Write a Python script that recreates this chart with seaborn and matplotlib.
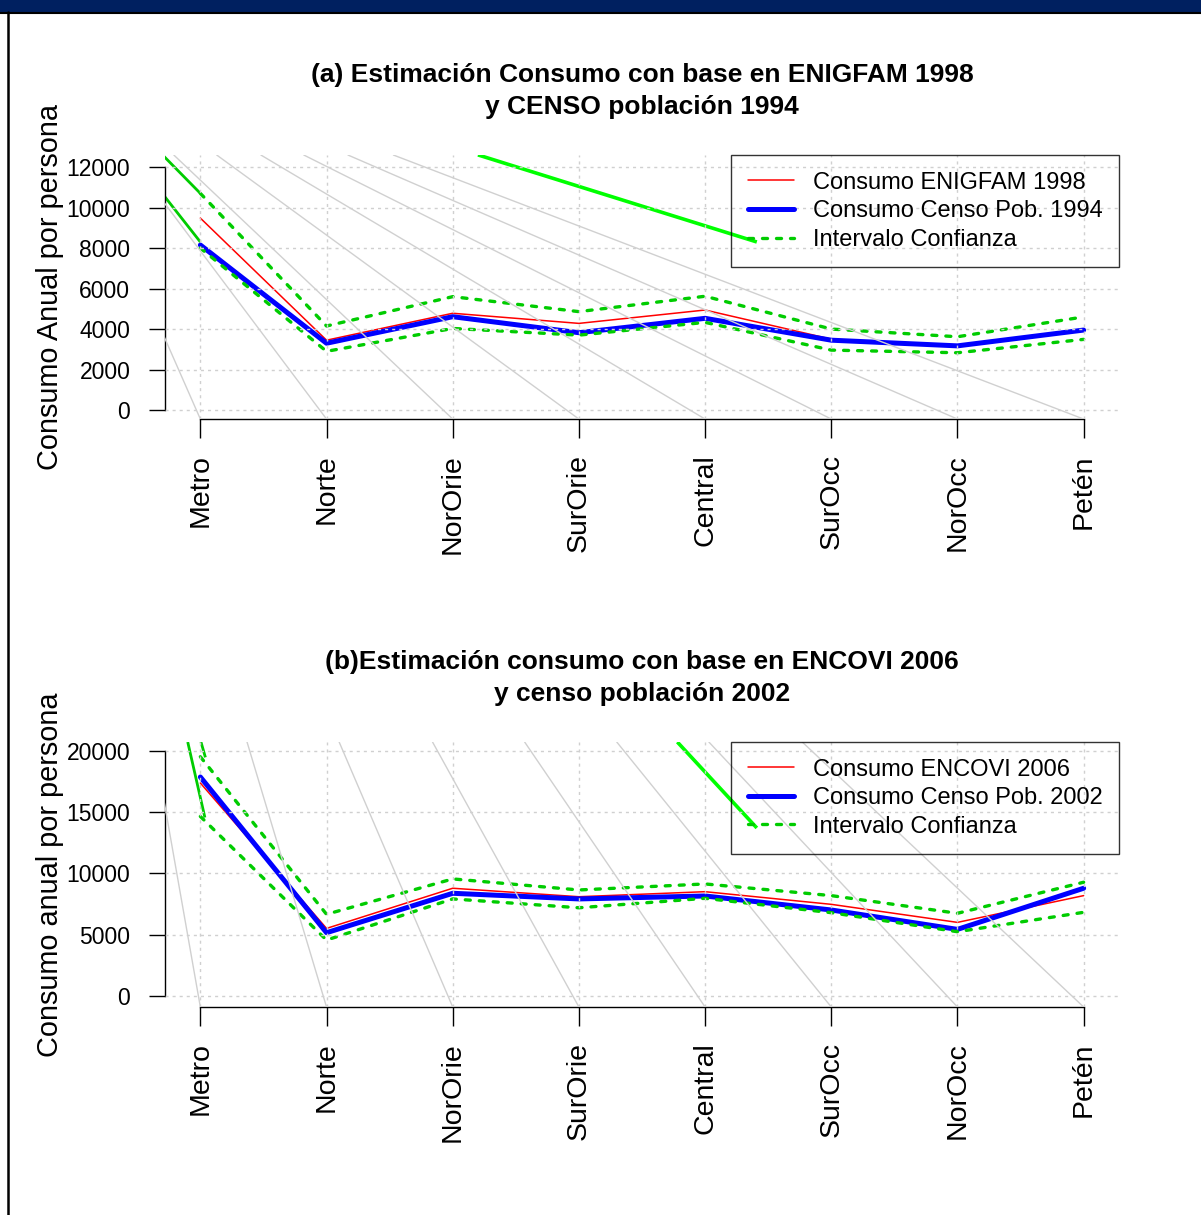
import matplotlib
matplotlib.use("Agg")
import matplotlib.pyplot as plt
from matplotlib.lines import Line2D
from matplotlib.patches import Rectangle
import pandas as pd
import seaborn as sns

regiones = ["Metro", "Norte", "NorOrie", "SurOrie", "Central", "SurOcc", "NorOcc", "Petén"]

# (a) ENIGFAM 1998 / censo 1994
enigfam_1998 = [9480, 3450, 4780, 4280, 4940, 3500, 3200, 3950]
censo_1994 = [8150, 3300, 4610, 3820, 4530, 3450, 3170, 3950]
ic_sup_1994 = [10700, 4150, 5600, 4860, 5620, 4000, 3620, 4600]
ic_inf_1994 = [8000, 2900, 4030, 3700, 4330, 2960, 2830, 3490]
yticks_a = [0, 2000, 4000, 6000, 8000, 10000, 12000]

# (b) ENCOVI 2006 / censo 2002
encovi_2006 = [17360, 5520, 8790, 8100, 8510, 7480, 6010, 8190]
censo_2002 = [17850, 5170, 8380, 7920, 8160, 7020, 5440, 8790]
ic_sup_2002 = [19500, 6670, 9550, 8650, 9140, 8190, 6750, 9280]
ic_inf_2002 = [14640, 4570, 7920, 7200, 7970, 6800, 5250, 6830]
yticks_b = [0, 5000, 10000, 15000, 20000]

# grey fan lines left by the original export: x (in region units) where each
# line leaves the top of the panel, one per region tick at the bottom
fan_top_a = [-0.92, -0.57, -0.21, 0.13, 0.48, 0.82, 1.17, 1.53]
fan_top_b = [-0.37, 0.37, 1.10, 1.84, 2.57, 3.30, 4.03, 4.77]

# stray solid green segments of the export: (x0, y0, x1, y1, colour)
verde_a = [(2.20, 12600, 4.41, 8300, "#00FF00"),
           (-0.30, 12600, 0.0, 10700, "#00CC00"),
           (-0.29, 10600, 0.0, 8300, "#00CC00")]
verde_b = [(3.78, 20700, 4.41, 13700, "#00FF00"),
           (-0.10, 20700, 0.036, 14550, "#00CC00"),
           (0.005, 20700, 0.04, 19450, "#00CC00")]

sns.set_style("white")
plt.rcParams["font.family"] = ["Liberation Sans", "DejaVu Sans"]
plt.rcParams["text.color"] = "black"
plt.rcParams["axes.labelcolor"] = "black"
plt.rcParams["xtick.color"] = "black"
plt.rcParams["ytick.color"] = "black"

GRIS = "#D0D0D0"
VERDE = "#00CC00"
PUNTOS = (0, (1.5, 2.7))


def panel(ax, consumo, censo, sup, inf, etiquetas, titulo, ylabel, yticks, ylim, fan_top, verde):
    df = pd.DataFrame({"pos": range(len(regiones)), "consumo": consumo,
                       "censo": censo, "sup": sup, "inf": inf})

    sns.lineplot(data=df, x="pos", y="consumo", ax=ax, color="red",
                 linewidth=1.1, label=etiquetas[0])
    sns.lineplot(data=df, x="pos", y="censo", ax=ax, color="blue",
                 linewidth=3.6, label=etiquetas[1])
    sns.lineplot(data=df, x="pos", y="sup", ax=ax, color=VERDE, linewidth=2.4,
                 linestyle=PUNTOS, dash_capstyle="round", label="Intervalo Confianza")
    sns.lineplot(data=df, x="pos", y="inf", ax=ax, color=VERDE, linewidth=2.4,
                 linestyle=PUNTOS, dash_capstyle="round", label="_nolegend_")

    ax.set_xlim(-0.28, 7.28)
    ax.set_ylim(*ylim)

    for i, xt in enumerate(fan_top):
        ax.plot([i, xt], [ylim[0], ylim[1]], color=GRIS, linewidth=1.0, zorder=2.6)
    for x0, y0, x1, y1, c in verde:
        ax.plot([x0, x1], [y0, y1], color=c, linewidth=2.6 if c == "#00FF00" else 2.0,
                solid_capstyle="butt", zorder=2.2)

    ax.set_xticks(range(len(regiones)))
    ax.set_xticklabels(regiones)
    ax.set_yticks(yticks)
    ax.set_axisbelow(False)
    ax.grid(True, color=GRIS, linestyle=(0, (2.2, 2.9)), linewidth=1.0)

    sns.despine(ax=ax)
    ax.spines["left"].set_bounds(yticks[0], yticks[-1])
    ax.spines["bottom"].set_bounds(0, len(regiones) - 1)
    for s in ("left", "bottom"):
        ax.spines[s].set_color("black")
        ax.spines[s].set_linewidth(1.0)

    ax.tick_params(axis="y", length=11.5, width=1, pad=13.5, labelsize=16.5,
                   left=True, color="black", labelcolor="black")
    ax.tick_params(axis="x", length=13.5, width=1, pad=12, labelsize=20.5,
                   labelrotation=90, bottom=True, color="black", labelcolor="black")

    ax.set_xlabel("")
    ax.set_ylabel(ylabel, fontsize=20.8, labelpad=2, color="black")
    ax.set_title(titulo, fontsize=19, fontweight="bold", pad=29.5,
                 linespacing=1.42, color="black")

    handles, labels = ax.get_legend_handles_labels()
    leg = ax.legend(handles, labels, loc="upper right", bbox_to_anchor=(1, 1),
                    borderaxespad=0, fontsize=17, frameon=True, fancybox=False,
                    edgecolor="black", borderpad=0.7, labelspacing=0.28,
                    handlelength=1.95, handletextpad=0.8)
    leg.get_frame().set_linewidth(1.0)
    leg.get_frame().set_facecolor("none")
    leg.set_zorder(5)
    for t in leg.get_texts():
        t.set_color("black")


fig = plt.figure(figsize=(12.01, 12.15), dpi=100)
ax_a = fig.add_axes([0.1374, 0.6551, 0.7943, 0.2173])
ax_b = fig.add_axes([0.1374, 0.1712, 0.7943, 0.2181])

panel(ax_a, enigfam_1998, censo_1994, ic_sup_1994, ic_inf_1994,
      ["Consumo ENIGFAM 1998", "Consumo Censo Pob. 1994"],
      "(a) Estimación Consumo con base en ENIGFAM 1998\ny CENSO población 1994",
      "Consumo Anual por persona", yticks_a, (-444, 12593), fan_top_a, verde_a)
panel(ax_b, encovi_2006, censo_2002, ic_sup_2002, ic_inf_2002,
      ["Consumo ENCOVI 2006", "Consumo Censo Pob. 2002"],
      "(b)Estimación consumo con base en ENCOVI 2006\ny censo población 2002",
      "Consumo anual por persona", yticks_b, (-880, 20700), fan_top_b, verde_b)

# page frame: navy band on top, black rule down the left side
fig.add_artist(Rectangle((0, 1 - 12 / 1215), 1, 12 / 1215, transform=fig.transFigure,
                         facecolor="#002060", edgecolor="none"))
fig.add_artist(Line2D([0, 1], [1 - 13 / 1215] * 2, transform=fig.transFigure,
                      color="black", linewidth=1.5))
fig.add_artist(Line2D([8 / 1201] * 2, [0, 1 - 12 / 1215], transform=fig.transFigure,
                      color="black", linewidth=1.8))

fig.savefig("out.png", dpi=100)
